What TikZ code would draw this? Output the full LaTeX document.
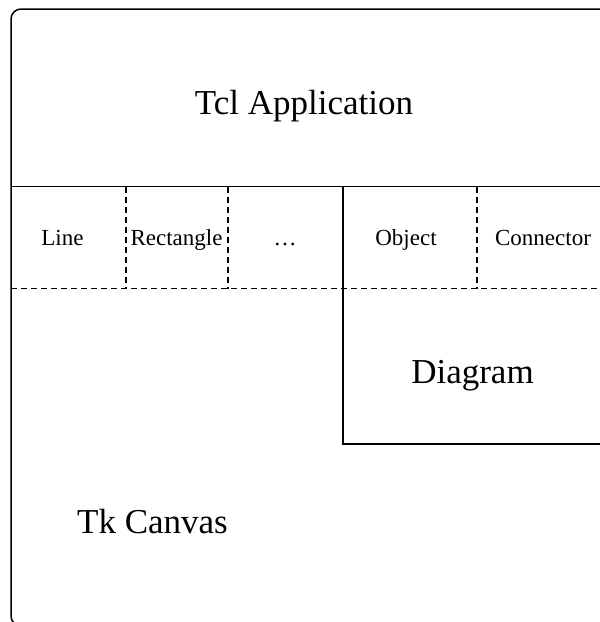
\documentclass[tikz,border=0pt]{standalone}
\usepackage{fontspec}
\setmainfont{Liberation Serif}
\usetikzlibrary{positioning}
\begin{document}
\begin{tikzpicture}[
    x=1pt, y=-1pt,
    frame/.style={draw, line width=1.5pt},
    split/.style={draw, line width=1.2pt, dash pattern=on 6pt off 4pt},
    bigtext/.style={anchor=base, inner sep=0pt, font=\fontsize{35}{40}\selectfont},
    smalltext/.style={anchor=base, inner sep=0pt, font=\fontsize{23}{28}\selectfont}
]
\useasboundingbox (0,0) rectangle (600,622);
\clip (0,0) rectangle (600,622);

% Outer frame and layers
\draw[frame, rounded corners=10pt] (11,9) rectangle (612,626);
\draw[frame] (11,186.5) -- (612,186.5);
\draw[frame] (343,186.5) -- (343,444) -- (612,444);

% Item cells
\draw[split] (11,288.5) -- (612,288.5);
\draw[split] (126,186.5) -- (126,288.5);
\draw[split] (228,186.5) -- (228,288.5);
\draw[split] (477,186.5) -- (477,288.5);

% Labels
\node[bigtext] (tcl) at (304,114) {Tcl Application};
\node[smalltext] (line) at (62.5,245) {Line};
\node[smalltext] (rect) at (176.5,245) {Rectangle};
\node[smalltext] (dots) at (285,245) {\ldots};
\node[smalltext] (object) at (406,245) {Object};
\node[smalltext] (connector) at (543,245) {Connector};
\node[bigtext] (diagram) at (472.5,383) {Diagram};
\node[bigtext] (canvas) at (152.5,533) {Tk Canvas};

\end{tikzpicture}
\end{document}
